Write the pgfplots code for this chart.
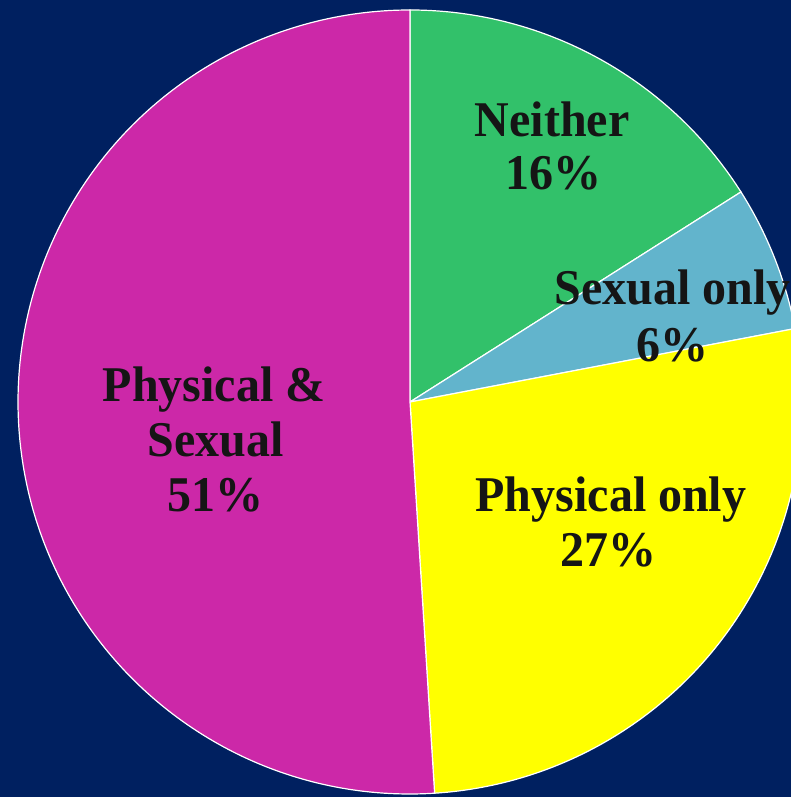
\documentclass[border=0pt]{standalone}
\usepackage{pgfplots}
\usepackage{pgfplotstable}
\pgfplotsset{compat=1.18}
\usepackage{fontspec}
\setmainfont{Liberation Serif}[FakeStretch=0.96]
\definecolor{bg}{HTML}{002060}
\definecolor{cA}{HTML}{32C16A}
\definecolor{cB}{HTML}{62B4CC}
\definecolor{cC}{HTML}{FFFF00}
\definecolor{cD}{HTML}{CC28A8}
\definecolor{tc}{HTML}{151515}
\pgfplotstableread{
slice value
Neither 16
Sexual 6
Physical 27
Both 51
}\piedata
\pgfplotstablegetelem{0}{value}\of\piedata \let\vA\pgfplotsretval
\pgfplotstablegetelem{1}{value}\of\piedata \let\vB\pgfplotsretval
\pgfplotstablegetelem{2}{value}\of\piedata \let\vC\pgfplotsretval
\pgfplotstablegetelem{3}{value}\of\piedata \let\vD\pgfplotsretval
\pgfmathsetmacro\sA{90}
\pgfmathsetmacro\sB{\sA-3.6*\vA}
\pgfmathsetmacro\sC{\sB-3.6*\vB}
\pgfmathsetmacro\sD{\sC-3.6*\vC}
\pgfmathsetmacro\sE{\sD-3.6*\vD}
\tikzset{lbl/.style={anchor=base, inner sep=0pt, text=tc, font=\fontsize{50}{55}\selectfont\bfseries}}
\begin{document}
\begin{tikzpicture}
\useasboundingbox (0,0) rectangle (791pt,797pt);
\begin{axis}[hide axis, x=1pt, y=1pt, xmin=0, xmax=791, ymin=0, ymax=797,
  at={(0,0)}, anchor=south west, clip=true]
\fill[bg] (axis cs:0,0) rectangle (axis cs:791,797);
\filldraw[fill=cA, draw=white, line width=1.2pt] (axis cs:410,395) -- ++(\sA:392pt) arc[start angle=\sA, end angle=\sB, radius=392pt] -- cycle;
\filldraw[fill=cB, draw=white, line width=1.2pt] (axis cs:410,395) -- ++(\sB:392pt) arc[start angle=\sB, end angle=\sC, radius=392pt] -- cycle;
\filldraw[fill=cC, draw=white, line width=1.2pt] (axis cs:410,395) -- ++(\sC:392pt) arc[start angle=\sC, end angle=\sD, radius=392pt] -- cycle;
\filldraw[fill=cD, draw=white, line width=1.2pt] (axis cs:410,395) -- ++(\sD:392pt) arc[start angle=\sD, end angle=\sE, radius=392pt] -- cycle;
\node[lbl] at (axis cs:552,660) {Neither};
\node[lbl] at (axis cs:553,607) {16\%};
\node[lbl] at (axis cs:673,492) {Sexual only};
\node[lbl] at (axis cs:672,435) {6\%};
\node[lbl] at (axis cs:611,285) {Physical only};
\node[lbl] at (axis cs:608,230) {27\%};
\node[lbl] at (axis cs:214,395) {Physical \&};
\node[lbl] at (axis cs:216,340) {Sexual};
\node[lbl] at (axis cs:215,285) {51\%};
\end{axis}
\end{tikzpicture}
\end{document}
